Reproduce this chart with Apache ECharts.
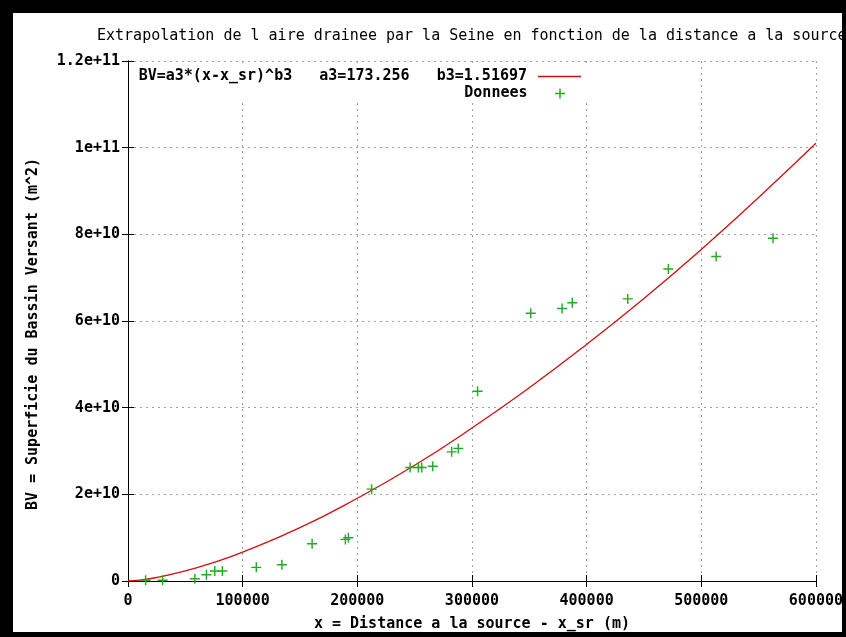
<!DOCTYPE html>
<html>
<head>
<meta charset="utf-8">
<script src="https://cdn.jsdelivr.net/npm/echarts@6/dist/echarts.min.js"></script>
<style>
  html, body { margin: 0; padding: 0; background: #fff; }
  #main { position: absolute; left: 0; top: 0; width: 846px; height: 637px; }
  .edge { position: absolute; background: #000; }
</style>
</head>
<body>
<div id="main"></div>
<div class="edge" style="left:0;top:0;width:846px;height:13px"></div>
<div class="edge" style="left:0;top:0;width:13px;height:637px"></div>
<div class="edge" style="left:842px;top:0;width:4px;height:637px"></div>
<div class="edge" style="left:0;top:632px;width:846px;height:5px"></div>
<script>
// mesures : distance a la source (m) et aire drainee (m^2)
var distX = [15400, 30200, 58300, 68400, 75700, 82300, 111900, 134200, 160600, 189600,
  192200, 212500, 246100, 253300, 256200, 265800, 282300, 288100, 304900, 351300,
  378600, 387500, 435900, 471300, 513000, 562600];
var aireY = [1.6e8, 1.6e8, 5.0e8, 1.45e9, 2.3e9, 2.3e9, 3.15e9, 3.75e9, 8.6e9, 9.6e9,
  1.0e10, 2.12e10, 2.62e10, 2.62e10, 2.62e10, 2.65e10, 2.98e10, 3.06e10, 4.38e10, 6.18e10,
  6.29e10, 6.42e10, 6.51e10, 7.20e10, 7.49e10, 7.91e10];

// courbe ajustee
var fitX = [0, 10000, 25000, 50000, 75000, 100000, 150000, 200000, 250000, 300000,
  350000, 400000, 450000, 500000, 550000, 600000];
var fitY = [0, 2.0e8, 8.1e8, 2.33e9, 4.31e9, 6.66e9, 1.23e10, 1.91e10, 2.67e10, 3.53e10,
  4.46e10, 5.46e10, 6.52e10, 7.65e10, 8.85e10, 1.010e11];

var xTickLabels = ['0', '100000', '200000', '300000', '400000', '500000', '600000'];
var yTickLabels = ['0', '2e+10', '4e+10', '6e+10', '8e+10', '1e+11', '1.2e+11'];

var fitName = 'BV=a3*(x-x_sr)^b3   a3=173.256   b3=1.51697';
var dataName = 'Donnees';

var mono = 'DejaVu Sans Mono';
var plus = 'path://M6,0H8V6H14V8H8V14H6V8H0V6H6Z';

var chart = echarts.init(document.getElementById('main'));

var fitData = [];
for (var i = 0; i < fitX.length; i++) fitData.push([fitX[i], fitY[i]]);
var pts = [];
for (var j = 0; j < distX.length; j++) pts.push([distX[j], aireY[j]]);

var mirror = {
  axisLine: { show: true, lineStyle: { color: '#000', width: 1 } },
  axisTick: { show: true, inside: true, length: 6, lineStyle: { color: '#000' } },
  axisLabel: { show: false },
  splitLine: { show: false }
};

option = {
  animation: false,
  backgroundColor: '#fff',
  title: {
    text: 'Extrapolation de l aire drainee par la Seine en fonction de la distance a la source',
    left: 97,
    top: 29,
    padding: 0,
    textStyle: { fontFamily: mono, fontSize: 15, fontWeight: 'normal', color: '#000' }
  },
  legend: [
    {
      data: [fitName],
      right: 265,
      top: 69,
      padding: 0,
      align: 'right',
      icon: 'rect',
      itemWidth: 43,
      itemHeight: 1.3,
      textStyle: { fontFamily: mono, fontSize: 15, fontWeight: 'bold', color: '#000', padding: [0, 6, 0, 0] }
    },
    {
      data: [dataName],
      right: 281,
      top: 86,
      padding: 0,
      align: 'right',
      itemWidth: 43,
      itemHeight: 10,
      icon: plus,
      textStyle: { fontFamily: mono, fontSize: 15, fontWeight: 'bold', color: '#000', padding: [0, 6, 0, 0] }
    }
  ],
  grid: { left: 128, right: 28, top: 61, bottom: 54 },
  xAxis: [
    {
      type: 'value',
      min: 0,
      max: 600000,
      interval: 100000,
      name: 'x = Distance a la source - x_sr (m)',
      nameLocation: 'middle',
      nameGap: 36,
      nameTextStyle: { fontFamily: mono, fontSize: 15, fontWeight: 'bold', color: '#000' },
      axisLine: { show: true, lineStyle: { color: '#000', width: 1 } },
      axisTick: { show: true, inside: true, length: 6, lineStyle: { color: '#000' } },
      axisLabel: {
        margin: 13,
        fontFamily: mono, fontSize: 15, fontWeight: 'bold', color: '#000',
        showMaxLabel: true,
        formatter: function (v) { return xTickLabels[Math.round(v / 100000)]; }
      },
      splitLine: { show: true, lineStyle: { color: '#a0a0a0', type: [2, 4], width: 1 } }
    },
    Object.assign({ type: 'value', position: 'top', min: 0, max: 600000, interval: 100000 }, mirror)
  ],
  yAxis: [
    {
      type: 'value',
      min: 0,
      max: 1.2e11,
      interval: 2e10,
      name: 'BV = Superficie du Bassin Versant (m^2)',
      nameLocation: 'middle',
      nameGap: 87,
      nameTextStyle: { fontFamily: mono, fontSize: 15, fontWeight: 'bold', color: '#000', padding: [0, 26, 0, 0] },
      axisLine: { show: true, lineStyle: { color: '#000', width: 1 } },
      axisTick: { show: true, inside: true, length: 6, lineStyle: { color: '#000' } },
      axisLabel: {
        margin: 8,
        padding: [3, 0, 0, 0],
        fontFamily: mono, fontSize: 15, fontWeight: 'bold', color: '#000',
        formatter: function (v) { return yTickLabels[Math.round(v / 2e10)]; }
      },
      splitLine: { show: true, lineStyle: { color: '#a0a0a0', type: [2, 4], width: 1 } }
    },
    Object.assign({ type: 'value', position: 'right', min: 0, max: 1.2e11, interval: 2e10 }, mirror)
  ],
  graphic: [
    {
      type: 'rect',
      z: 1,
      shape: { x: 129, y: 67, width: 467, height: 32 },
      style: { fill: '#fff' },
      silent: true
    }
  ],
  series: [
    {
      name: fitName,
      type: 'line',
      data: fitData,
      smooth: true,
      symbol: 'none',
      lineStyle: { color: '#d01010', width: 1.3 },
      itemStyle: { color: '#d01010' },
      z: 3
    },
    {
      name: dataName,
      type: 'scatter',
      data: pts,
      symbol: plus,
      symbolSize: 10,
      symbolKeepAspect: true,
      itemStyle: { color: '#22aa22', opacity: 1 },
      z: 4
    }
  ]
};

chart.setOption(option);
</script>
</body>
</html>
